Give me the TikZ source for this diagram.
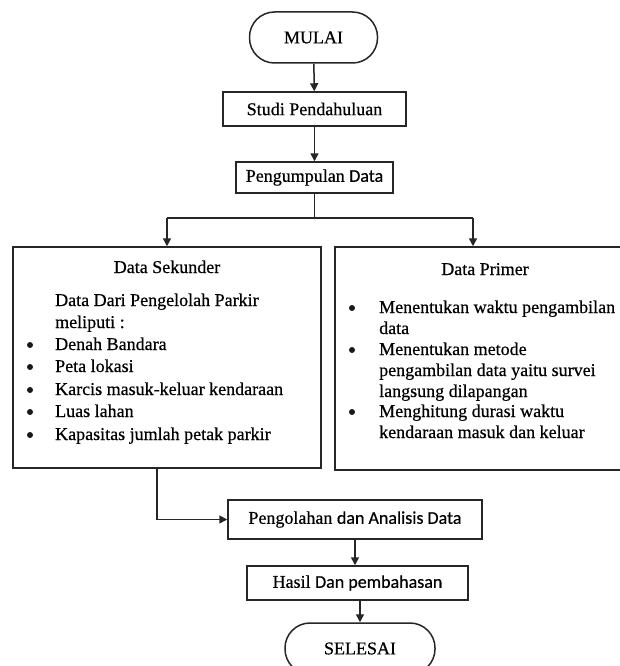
\documentclass[tikz,border=0pt]{standalone}
\usepackage{fontspec}
\setmainfont[FakeBold=0.5]{Liberation Serif}
\newfontfamily\calib[FakeBold=0.5]{Carlito}
\usetikzlibrary{arrows.meta}
\tikzset{
  line/.style={line width=1.5pt, draw=black!85},
  arr/.style={line, -{Triangle[length=8pt,width=8pt]}},
  procbox/.style={line, rectangle, inner sep=0pt, font=\fontsize{18}{22}\selectfont},
  termbox/.style={line, rectangle, rounded corners=25pt, inner sep=0pt, minimum width=128pt, minimum height=51pt, font=\fontsize{18}{22}\selectfont},
  txt/.style={anchor=base west, inner sep=0pt, font=\fontsize{18}{22}\selectfont},
  ttl/.style={anchor=base, inner sep=0pt, font=\fontsize{18}{22}\selectfont},
  bul/.style={circle, fill=black!90, inner sep=0pt, minimum size=6pt},
}
\begin{document}
\begin{tikzpicture}[x=1pt,y=-1pt]
\clip (0,0) rectangle (620,666);
\fill[white] (0,0) rectangle (620,666);
% main flow
\node[termbox] (mulai) at (313.5,37.5) {MULAI};
\node[procbox, minimum width=183pt, minimum height=34pt] (studi) at (314.5,109) {Studi Pendahuluan};
\node[procbox, minimum width=157pt, minimum height=31pt] (kumpul) at (314.5,177.5) {Pengumpulan {\calib Data}};
\node[procbox, minimum width=308pt, minimum height=221pt] (sek) at (167,357.5) {};
\node[procbox, minimum width=290pt, minimum height=223pt] (prim) at (480,358.5) {};
\node[procbox, minimum width=254pt, minimum height=39pt] (olah) at (355,519.5) {Pengolahan {\calib dan Analisis Data}};
\node[procbox, minimum width=221pt, minimum height=34pt] (hasil) at (357.5,583) {Hasil {\calib Dan pembahasan}};
\node[termbox, minimum width=150pt] (selesai) at (360,648.5) {SELESAI};
% connectors
\coordinate (split) at (314.5,218);
\coordinate (splitL) at (167,218);
\coordinate (splitR) at (473,218);
\draw[arr] (mulai) -- (studi);
\draw[arr] (studi) -- (kumpul);
\draw[line] (kumpul) -- (split);
\draw[line] (splitL) -- (splitR);
\draw[arr] (splitL) -- (sek.north -| splitL);
\draw[arr] (splitR) -- (prim.north -| splitR);
\draw[arr] ([xshift=-10pt]sek.south) |- (olah.west);
\draw[arr] (olah.south) -- (olah.south |- hasil.north);
\draw[arr] (hasil.south -| selesai) -- (selesai.north);
% Data Sekunder text
\node[ttl] (sekt) at (167,273) {Data Sekunder};
\node[txt] (s1) at (55,306) {Data Dari Pengelolah Parkir};
\node[txt] (s2) at (55,328) {meliputi :};
\node[bul] (sb3) at (30,345) {};
\node[txt] (s3) at (55,350) {Denah Bandara};
\node[bul] (sb4) at (30,367) {};
\node[txt] (s4) at (55,372) {Peta lokasi};
\node[bul] (sb5) at (30,390) {};
\node[txt] (s5) at (55,395) {Karcis masuk-keluar kendaraan};
\node[bul] (sb6) at (30,412) {};
\node[txt] (s6) at (55,417) {Luas lahan};
\node[bul] (sb7) at (30,435) {};
\node[txt] (s7) at (55,440) {Kapasitas jumlah petak parkir};
% Data Primer text
\node[ttl] (primt) at (485,275) {Data Primer};
\node[bul] (pb1) at (352,308) {};
\node[txt] (p1) at (379,313) {Menentukan waktu pengambilan};
\node[txt] (p2) at (379,334) {data};
\node[bul] (pb3) at (352,350) {};
\node[txt] (p3) at (379,355) {Menentukan metode};
\node[txt] (p4) at (379,376) {pengambilan data yaitu survei};
\node[txt] (p5) at (379,397) {langsung dilapangan};
\node[bul] (pb6) at (352,412) {};
\node[txt] (p6) at (379,417) {Menghitung durasi waktu};
\node[txt] (p7) at (379,438) {kendaraan masuk dan keluar};
\end{tikzpicture}
\end{document}
